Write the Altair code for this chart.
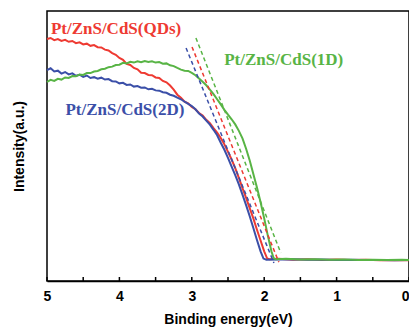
import altair as alt
import pandas as pd

# ---- data ----
series_names = ["Pt/ZnS/CdS(QDs)", "Pt/ZnS/CdS(2D)", "Pt/ZnS/CdS(1D)"]
series_colors = ["#ee3a32", "#3b4fa8", "#58b445"]

steep_grid = [5.00, 4.95, 4.90, 4.85, 4.80, 4.75, 4.70, 4.65, 4.60, 4.55,
              4.50, 4.45, 4.40, 4.35, 4.30, 4.25, 4.20, 4.15, 4.10, 4.05,
              4.00, 3.95, 3.90, 3.85, 3.80, 3.75, 3.70, 3.65, 3.60, 3.55,
              3.50, 3.45, 3.40, 3.35, 3.30, 3.25, 3.20, 3.15, 3.10, 3.05,
              3.00, 2.95, 2.90, 2.85, 2.80, 2.75, 2.70, 2.65, 2.60, 2.55,
              2.50, 2.45, 2.40, 2.35, 2.30, 2.25, 2.20, 2.15, 2.10, 2.05]

red_y = [89.6, 90.0, 89.2, 89.6, 88.9, 89.3, 88.6, 88.9, 88.1, 88.4,
         87.6, 87.9, 87.1, 87.4, 86.6, 86.5, 85.7, 85.4, 84.4, 83.8,
         82.6, 81.9, 80.4, 80.0, 78.9, 78.4, 77.1, 77.0, 76.3, 76.2,
         75.4, 75.2, 74.1, 73.6, 72.4, 70.9, 69.0, 67.9, 66.4, 65.8,
         64.5, 63.6, 62.2, 61.3, 59.7, 58.5, 56.6, 55.0, 53.0, 50.6,
         47.8, 45.0, 41.8, 38.2, 34.4, 30.8, 27.0, 23.2, 19.0, 15.0]
red_tail_x = [2.00, 1.96, 1.93, 1.80, 1.60, 1.40, 1.20, 1.00, 0.80, 0.60, 0.40, 0.20, 0.00]
red_tail_y = [11.0, 8.4, 8.1, 8.2, 7.9, 8.1, 7.8, 8.0, 7.8, 7.9, 7.7, 7.8, 7.7]

blue_y = [78.1, 78.8, 77.6, 77.9, 76.8, 77.4, 76.5, 76.9, 76.0, 76.4,
          75.6, 76.1, 75.2, 75.5, 74.9, 75.3, 74.6, 74.8, 74.0, 73.9,
          73.2, 73.4, 72.6, 72.8, 72.0, 72.2, 71.6, 71.7, 71.0, 71.2,
          70.6, 70.5, 69.9, 69.7, 69.0, 68.6, 67.9, 67.3, 66.4, 65.6,
          64.8, 63.6, 62.0, 60.9, 59.4, 57.9, 56.0, 54.0, 51.2, 48.6,
          45.6, 42.4, 39.2, 35.8, 32.0, 28.1, 24.0, 19.6, 15.2, 11.0]
blue_tail_x = [2.01, 1.97, 1.80, 1.60, 1.40, 1.20, 1.00, 0.80, 0.60, 0.40, 0.20, 0.00]
blue_tail_y = [8.3, 7.9, 8.0, 8.1, 7.9, 8.0, 7.8, 7.9, 7.8, 7.8, 7.7, 7.8]

green_y = [73.7, 74.5, 74.1, 74.9, 74.6, 75.4, 75.2, 75.9, 75.8, 76.5,
           76.3, 77.0, 77.0, 77.6, 77.8, 78.4, 78.6, 79.2, 79.4, 80.0,
           80.1, 80.8, 80.6, 81.2, 80.9, 81.4, 81.0, 81.5, 81.1, 81.4,
           80.9, 81.1, 80.5, 80.6, 79.9, 79.6, 78.9, 78.3, 77.9, 77.8,
           77.1, 76.2, 75.0, 73.8, 72.5, 70.9, 69.2, 67.3, 65.4, 63.4,
           61.6, 59.9, 58.0, 55.6, 52.8, 49.0, 44.6, 39.6, 34.6, 29.2]
green_tail_x = [2.00, 1.95, 1.90, 1.87, 1.84, 1.70, 1.50, 1.30, 1.10, 0.90, 0.70, 0.50, 0.30, 0.10, 0.00]
green_tail_y = [23.2, 16.8, 11.0, 8.5, 8.1, 8.2, 8.0, 8.1, 7.9, 8.0, 7.8, 7.9, 7.8, 7.9, 7.8]

# tangent (dashed) lines: start / end energies and intensities
tan_x1 = [2.997, 3.079, 2.943]
tan_y1 = [86.7, 86.3, 90.0]
tan_x2 = [1.798, 1.866, 1.771]
tan_y2 = [7.0, 6.7, 10.4]

# label anchors (data coordinates)
label_x = [4.046, 3.924, 1.730]
label_y = [93.3, 63.3, 81.9]

major_ticks = [5, 4, 3, 2, 1, 0]
all_ticks = [5, 4.5, 4, 3.5, 3, 2.5, 2, 1.5, 1, 0.5, 0]

# ---- tables ----
rows = []
for name, ys, tx, ty in [
    (series_names[0], red_y, red_tail_x, red_tail_y),
    (series_names[1], blue_y, blue_tail_x, blue_tail_y),
    (series_names[2], green_y, green_tail_x, green_tail_y),
]:
    for x, y in zip(steep_grid + tx, ys + ty):
        rows.append({"series": name, "E": x, "I": y})
curves = pd.DataFrame(rows)

tangents = pd.DataFrame({
    "series": series_names, "E": tan_x1, "I": tan_y1, "E2": tan_x2, "I2": tan_y2,
})
labels = pd.DataFrame({"series": series_names, "E": label_x, "I": label_y})
ticks = pd.DataFrame({"E": all_ticks})

W, H = 362, 270
xscale = alt.Scale(domain=[0, 5], reverse=True, nice=False)
yscale = alt.Scale(domain=[0, 100], nice=False)
cscale = alt.Scale(domain=series_names, range=series_colors)

xaxis = alt.Axis(values=major_ticks, format="d", ticks=False, grid=False,
                 domainColor="black", domainWidth=1.5,
                 labelFont="Liberation Sans", labelFontWeight="bold", labelFontSize=14,
                 labelColor="black", labelPadding=8,
                 labelAlign={"expr": "datum.value == 0 ? 'right' : 'center'"},
                 title="Binding energy(eV)", titleFont="Liberation Sans",
                 titleFontWeight="bold", titleFontSize=14, titleColor="black",
                 titlePadding=9)
yaxis = alt.Axis(labels=False, ticks=False, grid=False, domain=False,
                 title="Intensity(a.u.)", titleFont="Liberation Sans",
                 titleFontWeight="bold", titleFontSize=14, titleColor="black",
                 titlePadding=21)

lines = alt.Chart(curves).mark_line(strokeWidth=2).encode(
    x=alt.X("E:Q", scale=xscale, axis=xaxis),
    y=alt.Y("I:Q", scale=yscale, axis=yaxis),
    color=alt.Color("series:N", scale=cscale, legend=None),
    detail="series:N",
)

dashes = alt.Chart(tangents).mark_rule(strokeWidth=1.5, strokeDash=[4, 3]).encode(
    x=alt.X("E:Q", scale=xscale),
    y=alt.Y("I:Q", scale=yscale),
    x2="E2:Q", y2="I2:Q",
    color=alt.Color("series:N", scale=cscale, legend=None),
)

texts = alt.Chart(labels).mark_text(font="Liberation Serif", fontWeight="bold",
                                     fontSize=17, align="center", baseline="middle").encode(
    x=alt.X("E:Q", scale=xscale),
    y=alt.Y("I:Q", scale=yscale),
    text="series:N",
    color=alt.Color("series:N", scale=cscale, legend=None),
)

tickmarks = alt.Chart(ticks).mark_rule(color="black", strokeWidth=1.5).encode(
    x=alt.X("E:Q", scale=xscale),
    y=alt.value(H), y2=alt.value(H - 4),
)

chart = alt.layer(lines, dashes, texts, tickmarks).properties(
    width=W, height=H,
    autosize=alt.AutoSizeParams(type="none"),
    padding={"left": 39, "top": 3, "right": 0, "bottom": 48},
    background="white",
).configure_view(stroke="black", strokeWidth=1.5)

chart.save("out.html", embed_options={"renderer": "svg", "actions": False})
